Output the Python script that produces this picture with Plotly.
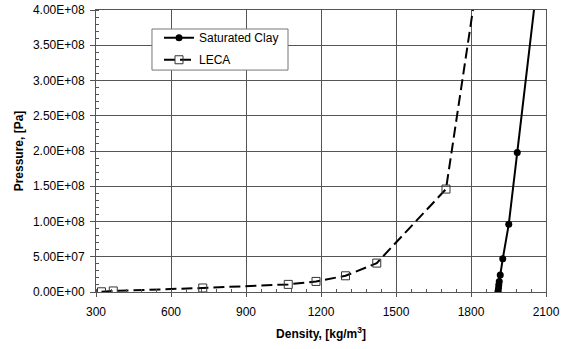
import plotly.graph_objects as go

# Saturated clay: density [kg/m3] vs pressure [Pa]
clay_density = [1908, 1909, 1910, 1911, 1913, 1917, 1927, 1951, 1985, 2085]
clay_pressure = [0.0, 2.0e6, 5.0e6, 1.0e7, 1.5e7, 2.4e7, 4.7e7, 9.6e7, 1.98e8, 5.0e8]

# LECA: density [kg/m3] vs pressure [Pa]
leca_density = [322, 369, 727, 1069, 1180, 1298, 1423, 1700, 1850]
leca_pressure = [0.3e6, 1.5e6, 5.7e6, 1.08e7, 1.5e7, 2.3e7, 4.1e7, 1.46e8, 5.0e8]

x_ticks = [300, 600, 900, 1200, 1500, 1800, 2100]
y_ticks = [0, 5e7, 1e8, 1.5e8, 2e8, 2.5e8, 3e8, 3.5e8, 4e8]
y_tick_text = ["0.00E+00", "5.00E+07", "1.00E+08", "1.50E+08", "2.00E+08",
               "2.50E+08", "3.00E+08", "3.50E+08", "4.00E+08"]

FONT = "Liberation Sans, Arial, sans-serif"
GRID = "#555555"

fig = go.Figure()
fig.add_trace(go.Scatter(
    x=clay_density, y=clay_pressure, name="Saturated Clay",
    legendgroup="clay",
    mode="lines+markers",
    line=dict(color="black", width=2),
    marker=dict(symbol="circle", size=7, color="black"),
))
fig.add_trace(go.Scatter(
    x=leca_density, y=leca_pressure, name="LECA",
    legendgroup="leca",
    mode="lines+markers",
    line=dict(color="black", width=2, dash="11px,5px"),
    marker=dict(symbol="square-open", size=8, color="#333333",
                line=dict(width=1)),
))

# framed legend box (drawn above the grid, below the legend entries)
fig.add_shape(
    type="rect", xref="paper", yref="paper",
    x0=0.1244, x1=0.4267, y0=0.787, y1=0.9326,
    line=dict(color="#777777", width=1), fillcolor="white", layer="above",
)

fig.update_layout(
    width=563, height=349,
    margin=dict(l=96, r=17, t=10, b=57, autoexpand=False),
    paper_bgcolor="white", plot_bgcolor="white",
    font=dict(family=FONT, size=12, color="black"),
    showlegend=True,
    legend=dict(
        x=0.140, y=0.953, xanchor="left", yanchor="top",
        bgcolor="rgba(0,0,0,0)", borderwidth=0,
        font=dict(family=FONT, size=12, color="black"),
        tracegroupgap=3, itemwidth=30,
    ),
)

fig.update_xaxes(
    range=[300, 2100], automargin=False,
    tickvals=x_ticks, ticktext=[str(v) for v in x_ticks],
    showgrid=True, gridcolor=GRID, gridwidth=1,
    showline=True, linecolor=GRID, linewidth=1, mirror=True,
    ticks="outside", ticklen=4, tickcolor=GRID,
    ticklabelstandoff=5,
    minor=dict(dtick=60, tick0=300, ticks="inside", ticklen=3,
               tickcolor=GRID, showgrid=False),
    zeroline=False,
    tickfont=dict(family=FONT, size=12, color="black"),
    title=dict(text="<b>Density, [kg/m<sup>3</sup>]</b>",
               font=dict(family=FONT, size=12), standoff=11),
)
fig.update_yaxes(
    range=[0, 4e8], automargin=False,
    tickvals=y_ticks, ticktext=y_tick_text,
    showgrid=True, gridcolor=GRID, gridwidth=1,
    showline=True, linecolor=GRID, linewidth=1, mirror=True,
    ticks="outside", ticklen=5, tickcolor=GRID,
    ticklabelstandoff=3,
    minor=dict(dtick=1e7, tick0=0, ticks="inside", ticklen=3,
               tickcolor=GRID, showgrid=False),
    zeroline=False,
    tickfont=dict(family=FONT, size=12, color="black"),
    title=dict(text="<b>Pressure, [Pa]</b>",
               font=dict(family=FONT, size=12), standoff=6),
)

fig.write_html("out.html")
